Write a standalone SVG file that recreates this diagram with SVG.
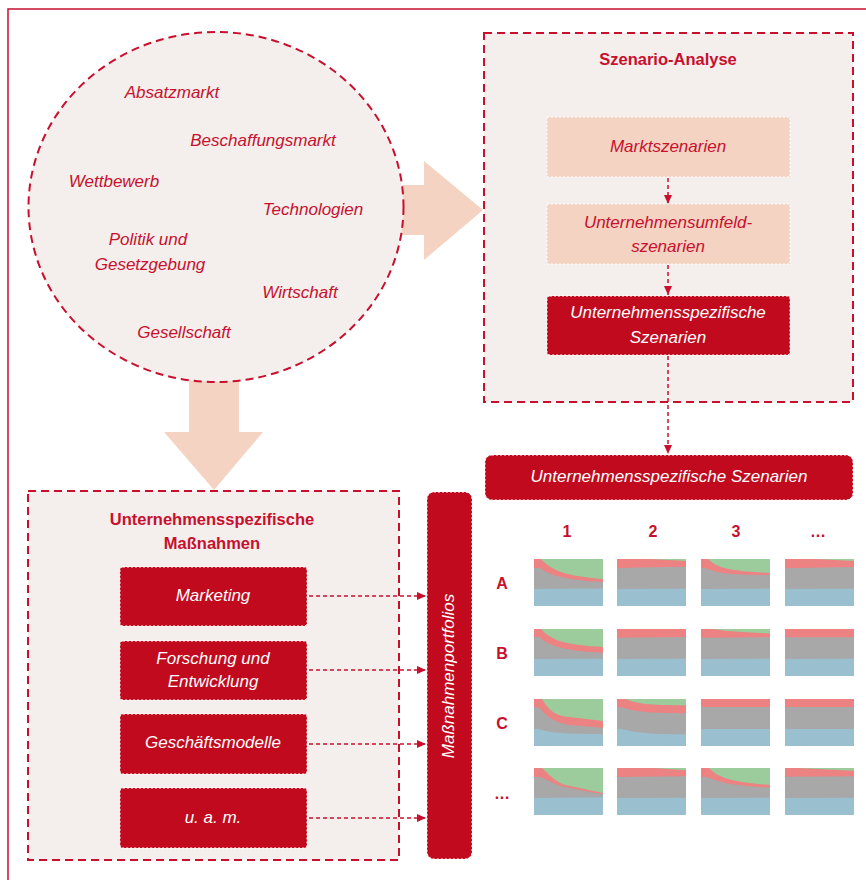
<svg xmlns="http://www.w3.org/2000/svg" width="866" height="880" viewBox="0 0 866 880">
<defs>
<style>
.frame{fill:none;stroke:#c8102e;stroke-width:1.5}
.zone{fill:#f4efec;stroke:#c8102e;stroke-width:2;stroke-dasharray:8 5}
.peach{fill:#f4d3c3}
.lightbox{fill:#f4d3c3;stroke:#fff;stroke-width:1;stroke-dasharray:2 2}
.darkbox{fill:#c10a1e;stroke:#fff;stroke-width:1;stroke-dasharray:2 2}
.it{font-family:"Liberation Sans",Arial,sans-serif;font-style:italic;font-size:17px;fill:#c8102e;text-anchor:middle}
.itw{font-family:"Liberation Sans",Arial,sans-serif;font-style:italic;font-size:17px;fill:#fff;text-anchor:middle}
.bold{font-family:"Liberation Sans",Arial,sans-serif;font-weight:bold;font-size:16.5px;fill:#c8102e;text-anchor:middle}
.lbl{font-family:"Liberation Sans",Arial,sans-serif;font-weight:bold;font-size:16px;fill:#c8102e;text-anchor:middle}
.conn{fill:none;stroke:#c8102e;stroke-width:1.5;stroke-dasharray:4 3}
.g{fill:#9ccb9c}.r{fill:#ec8282}.y{fill:#a8a8a8}.b{fill:#9abfcf}
</style>
<marker id="ah" markerUnits="userSpaceOnUse" markerWidth="10" markerHeight="10" refX="9" refY="5" orient="auto">
<path d="M0,1 L9,5 L0,9 Z" fill="#c8102e"/>
</marker>
</defs>

<rect width="866" height="880" fill="#fff"/>
<path class="frame" d="M8,880 V9 H866"/>

<!-- big arrows -->
<g id="arrow-right">
<path class="peach" d="M395,185 H424 V161 L483,210 L424,260 V235 H395 Z"/>
</g>
<g id="arrow-down">
<path class="peach" d="M189,370 H239 V432 H263 L214,490 L164,432 H189 Z"/>
</g>

<!-- circle of influences -->
<g id="umfeld">
<ellipse cx="216" cy="207" rx="187.5" ry="175" class="zone"/>
<text class="it" x="172" y="98">Absatzmarkt</text>
<text class="it" x="263" y="146">Beschaffungsmarkt</text>
<text class="it" x="114" y="187">Wettbewerb</text>
<text class="it" x="313" y="215">Technologien</text>
<text class="it" x="148" y="245">Politik und</text>
<text class="it" x="150" y="270">Gesetzgebung</text>
<text class="it" x="300" y="298">Wirtschaft</text>
<text class="it" x="184" y="338">Gesellschaft</text>
</g>

<!-- Szenario-Analyse -->
<g id="szenario-analyse">
<rect x="484" y="33" width="369" height="369" class="zone"/>
<text class="bold" x="668" y="65">Szenario-Analyse</text>
</g>
<g id="marktszenarien">
<rect x="547" y="117" width="243" height="60" class="lightbox"/>
<text class="it" x="668" y="152">Marktszenarien</text>
</g>
<g id="umfeldszenarien">
<rect x="547" y="204" width="243" height="60" class="lightbox"/>
<text class="it" x="668" y="228">Unternehmensumfeld-</text>
<text class="it" x="668" y="252">szenarien</text>
</g>
<g id="spez-szenarien">
<rect x="547" y="296" width="243" height="59" rx="3" class="darkbox"/>
<text class="itw" x="668" y="318">Unternehmensspezifische</text>
<text class="itw" x="668" y="343">Szenarien</text>
</g>
<g id="spez-szenarien-wide">
<rect x="485" y="455" width="368" height="45" rx="7" class="darkbox"/>
<text class="itw" x="669" y="482">Unternehmensspezifische Szenarien</text>
</g>

<!-- Massnahmen -->
<g id="massnahmen">
<rect x="28" y="491" width="371" height="369" class="zone"/>
<text class="bold" x="212" y="525">Unternehmensspezifische</text>
<text class="bold" x="212" y="549">Maßnahmen</text>
</g>
<g id="marketing">
<rect x="120" y="567" width="187" height="59" rx="3" class="darkbox"/>
<text class="itw" x="213" y="601">Marketing</text>
</g>
<g id="forschung">
<rect x="120" y="641" width="187" height="59" rx="3" class="darkbox"/>
<text class="itw" x="213" y="664">Forschung und</text>
<text class="itw" x="213" y="687">Entwicklung</text>
</g>
<g id="geschaeftsmodelle">
<rect x="120" y="714" width="187" height="60" rx="3" class="darkbox"/>
<text class="itw" x="213" y="748">Geschäftsmodelle</text>
</g>
<g id="uam">
<rect x="120" y="788" width="187" height="60" rx="3" class="darkbox"/>
<text class="itw" x="213" y="823">u. a. m.</text>
</g>
<g id="portfolios">
<rect x="427" y="492" width="45" height="367" rx="7" class="darkbox"/>
<text class="itw" transform="translate(454,676) rotate(-90)">Maßnahmenportfolios</text>
</g>

<!-- connectors -->
<g id="connectors">
<path class="conn" d="M668,178 V204" marker-end="url(#ah)"/>
<path class="conn" d="M668,265 V295" marker-end="url(#ah)"/>
<path class="conn" d="M668,356 V454" marker-end="url(#ah)"/>
<path class="conn" d="M309,596 H426" marker-end="url(#ah)"/>
<path class="conn" d="M309,670 H426" marker-end="url(#ah)"/>
<path class="conn" d="M309,744 H426" marker-end="url(#ah)"/>
<path class="conn" d="M309,818 H426" marker-end="url(#ah)"/>
</g>

<!-- scenario matrix labels -->
<g id="matrix-labels">
<text class="lbl" x="567" y="537">1</text>
<text class="lbl" x="653" y="537">2</text>
<text class="lbl" x="736" y="537">3</text>
<text class="lbl" x="818" y="537">…</text>
<text class="lbl" x="502" y="589">A</text>
<text class="lbl" x="502" y="659">B</text>
<text class="lbl" x="502" y="729">C</text>
<text class="lbl" x="502" y="799">…</text>
</g>

<!-- charts -->
<g id="charts">
<g transform="translate(534,559)"><rect class="g" width="69" height="47"/>
<path class="r" d="M0,47 V0 H7 C18,12 32,17 69,20 V47 Z"/>
<path class="y" d="M0,47 V9 H6 C17,17 32,21 69,23 V47 Z"/>
<path class="b" d="M0,47 V30 L69,29.5 V47 Z"/></g>
<g transform="translate(617,559)"><rect class="g" width="69" height="47"/>
<path class="r" d="M0,47 V0 H34 L69,2 V47 Z"/>
<path class="y" d="M0,47 V9.3 L20,8.5 L69,7.7 V47 Z"/>
<path class="b" d="M0,47 V30 L69,29.7 V47 Z"/></g>
<g transform="translate(701,559)"><rect class="g" width="69" height="47"/>
<path class="r" d="M0,47 V0 H7 C16,9 28,12 69,14 V47 Z"/>
<path class="y" d="M0,47 V9.3 H5 C15,14 28,16 69,16 V47 Z"/>
<path class="b" d="M0,47 V30 L69,29.7 V47 Z"/></g>
<g transform="translate(785,559)"><rect class="g" width="69" height="47"/>
<path class="r" d="M0,47 V0 H30 L69,2 V47 Z"/>
<path class="y" d="M0,47 V9.3 L69,8 V47 Z"/>
<path class="b" d="M0,47 V30 L69,29.7 V47 Z"/></g>

<g transform="translate(534,629)"><rect class="g" width="69" height="47"/>
<path class="r" d="M0,47 V0 H7 C18,12 32,16 69,18 V47 Z"/>
<path class="y" d="M0,47 V8 H5 C17,18 32,22 69,23.7 V47 Z"/>
<path class="b" d="M0,47 V30 L69,29.7 V47 Z"/></g>
<g transform="translate(617,629)"><rect class="r" width="69" height="47"/>
<path class="y" d="M0,47 V8.7 L69,8 V47 Z"/>
<path class="b" d="M0,47 V30 L69,29.7 V47 Z"/></g>
<g transform="translate(701,629)"><rect class="g" width="69" height="47"/>
<path class="r" d="M0,47 V0 H12 C30,3 50,3.5 69,4.5 V47 Z"/>
<path class="y" d="M0,47 V8.7 L69,8.3 V47 Z"/>
<path class="b" d="M0,47 V30 L69,29.7 V47 Z"/></g>
<g transform="translate(785,629)"><rect class="r" width="69" height="47"/>
<path class="y" d="M0,47 V8.3 L69,8.3 V47 Z"/>
<path class="b" d="M0,47 V30 L69,29.7 V47 Z"/></g>

<g transform="translate(534,699)"><rect class="g" width="69" height="47"/>
<path class="r" d="M0,47 V0 H8 C16,14 24,17 35,18 L69,22 V47 Z"/>
<path class="y" d="M0,47 V8.3 H5 C14,20 24,24 35,26 L69,28.7 V47 Z"/>
<path class="b" d="M0,47 V30 H4 C14,33 24,34 35,34.5 L69,35.3 V47 Z"/></g>
<g transform="translate(617,699)"><rect class="g" width="69" height="47"/>
<path class="r" d="M0,47 V0 H9 C20,5 30,6 69,6.3 V47 Z"/>
<path class="y" d="M0,47 V8.3 H5 C20,13 30,14 69,14.3 V47 Z"/>
<path class="b" d="M0,47 V30 H5 C20,34 30,35 69,35.3 V47 Z"/></g>
<g transform="translate(701,699)"><rect class="r" width="69" height="47"/>
<path class="y" d="M0,47 V8 L69,8 V47 Z"/>
<path class="b" d="M0,47 V30 L69,30 V47 Z"/></g>
<g transform="translate(785,699)"><rect class="r" width="69" height="47"/>
<path class="y" d="M0,47 V8 L69,8 V47 Z"/>
<path class="b" d="M0,47 V30 L69,30 V47 Z"/></g>

<g transform="translate(534,768)"><rect class="g" width="69" height="47"/>
<path class="r" d="M0,47 V0 H8 C18,10 26,17 36,18 C50,21 60,23 69,25 V47 Z"/>
<path class="y" d="M0,47 V9 H6 C18,14 26,19 36,20 C50,23 60,25 69,26 V47 Z"/>
<path class="b" d="M0,47 V30 L69,29.3 V47 Z"/></g>
<g transform="translate(617,768)"><rect class="g" width="69" height="47"/>
<path class="r" d="M0,47 V0 H36 L69,2.3 V47 Z"/>
<path class="y" d="M0,47 V9 L69,8.3 V47 Z"/>
<path class="b" d="M0,47 V30 L69,29.7 V47 Z"/></g>
<g transform="translate(701,768)"><rect class="g" width="69" height="47"/>
<path class="r" d="M0,47 V0 H8 C18,10 30,14 69,17 V47 Z"/>
<path class="y" d="M0,47 V9 H6 C18,14 30,18 69,19.5 V47 Z"/>
<path class="b" d="M0,47 V30 L69,29.7 V47 Z"/></g>
<g transform="translate(785,768)"><rect class="g" width="69" height="47"/>
<path class="r" d="M0,47 V0 H12 L69,2.7 V47 Z"/>
<path class="y" d="M0,47 V8.7 L69,8.3 V47 Z"/>
<path class="b" d="M0,47 V30 L69,29.7 V47 Z"/></g>
</g>
</svg>
